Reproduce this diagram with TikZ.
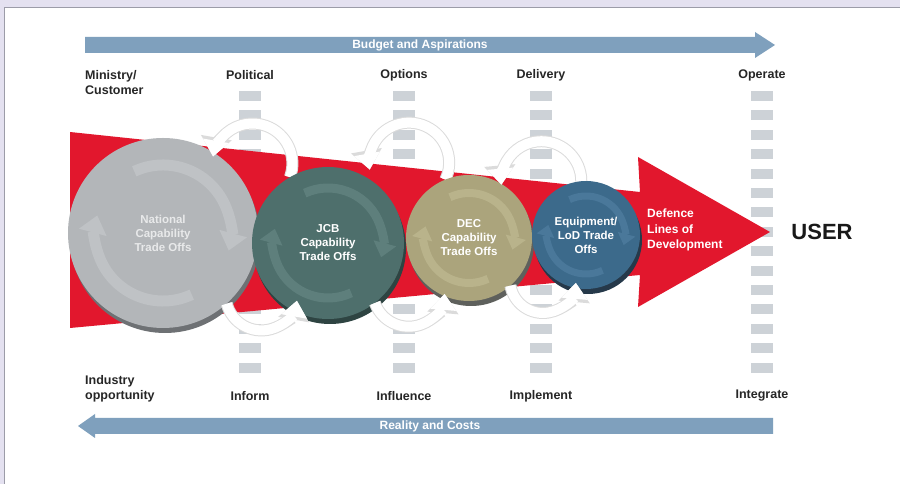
\documentclass[tikz,border=0pt]{standalone}
\usepackage{fontspec}
\setmainfont{Liberation Sans}
\usetikzlibrary{arrows.meta}

\definecolor{lavbg}{HTML}{E4E1F0}
\definecolor{framegray}{HTML}{9C9CA8}
\definecolor{barblue}{HTML}{7FA0BD}
\definecolor{dashgray}{HTML}{CDD2D7}
\definecolor{defred}{HTML}{E2172D}
\definecolor{natgray}{HTML}{B3B6B9}
\definecolor{natdark}{HTML}{6E7174}
\definecolor{natring}{HTML}{BFC2C5}
\definecolor{natword}{HTML}{E8E9EA}
\definecolor{jcbteal}{HTML}{4E6F6C}
\definecolor{jcbdark}{HTML}{2E4442}
\definecolor{jcbring}{HTML}{5E7F7C}
\definecolor{deckhaki}{HTML}{ABA47C}
\definecolor{decdark}{HTML}{5E605C}
\definecolor{decring}{HTML}{B9B38B}
\definecolor{eqpblue}{HTML}{3C6A8B}
\definecolor{eqpdark}{HTML}{26394A}
\definecolor{eqpring}{HTML}{4A789A}

\begin{document}
\begin{tikzpicture}[
        x = 1pt, y = 1pt, % one unit is one point
        > = {Triangle[width=0pt 2.5, length=0pt 1.6]}, % loop arrow heads
        label/.style = {font=\bfseries\fontsize{12.5}{15}\selectfont, text=black!85, inner sep=0pt},
        tag/.style = {font=\bfseries\fontsize{12}{14.5}\selectfont, text=white, inner sep=0pt},
        disc/.style = {shape=circle, inner sep=0pt, align=center, text=white,
            font=\bfseries\fontsize{11.5}{14}\selectfont},
        loopy/.style = {->, draw=white, line width=10pt,
            preaction={draw=gray!28, line width=12pt, -{Triangle[width=0pt 2.5, length=0pt 1.6]}}},
        swirl/.style n args = {3}{path picture={
            \draw[->, draw=#1, line width=#3] (path picture bounding box.center) ++(115:#2)
                arc[start angle=115, end angle=-15, radius=#2];
            \draw[->, draw=#1, line width=#3] (path picture bounding box.center) ++(-65:#2)
                arc[start angle=-65, end angle=-195, radius=#2];
        }}
    ]
\useasboundingbox (0,0) rectangle (900,484);

% frame
\fill[lavbg] (0,0) rectangle (900,484);
\fill[white] (4,0) rectangle (900,476);
\draw[framegray, line width=1pt] (4.5,0) -- (4.5,476.5) -- (900,476.5);

% budget / reality bars
\fill[barblue] (85,431) -- (755,431) -- (755,426) -- (775,439) -- (755,452) -- (755,447) -- (85,447) -- cycle;
\node[tag] (budget) at (420,439) {Budget and Aspirations};
\fill[barblue] (773,50) -- (95,50) -- (95,46) -- (78,58) -- (95,70) -- (95,66) -- (773,66) -- cycle;
\node[tag] (reality) at (430,58) {Reality and Costs};

% stage columns
\foreach \x in {250,404,541,762} {
    \foreach \k in {0,...,14} {
        \fill[dashgray] (\x-11,393-19.4*\k) rectangle ++(22,-10);
    }
}

\node[label, align=left, anchor=west] (ministry) at (85,401) {Ministry/\\Customer};
\node[label] (political) at (250,409) {Political};
\node[label] (options) at (404,409) {Options};
\node[label] (delivery) at (541,409) {Delivery};
\node[label] (operate) at (762,409) {Operate};

\node[label, align=left, anchor=west] (industry) at (85,95) {Industry\\opportunity};
\node[label] (inform) at (250,88) {Inform};
\node[label] (influence) at (404,88) {Influence};
\node[label] (implement) at (541,88) {Implement};
\node[label] (integrate) at (762,88) {Integrate};

% red lines of development arrow
\fill[defred] (70,352) -- (640,292) -- (638,327) -- (770,252) -- (638,177) -- (640,209) -- (70,156) -- cycle;
\node[tag, align=left, anchor=west, font=\bfseries\fontsize{12}{15.5}\selectfont] (lod) at (647,254)
    {Defence\\Lines of\\Development};
\node[font=\bfseries\fontsize{22}{24}\selectfont, text=black!90, inner sep=0pt] (user) at (822,252) {USER};

% disc centres
\coordinate (natc) at (163,251);
\coordinate (jcbc) at (328,241);
\coordinate (decc) at (469,246);
\coordinate (eqpc) at (586,249);

% trade off discs, back to front
\fill[natdark] ([shift={(2,-5)}]natc) circle (95);
\node[disc, fill=natgray, minimum size=190, text=natword, swirl={natring}{68}{11pt}] (nat) at (natc)
    {National\\Capability\\Trade Offs};
\draw[loopy] ([shift={(120:76)}]jcbc) arc[start angle=-20, end angle=170, radius=40];

\fill[jcbdark] ([shift={(2,-5)}]jcbc) circle (76);
\node[disc, fill=jcbteal, minimum size=152, swirl={jcbring}{55}{9pt}] (jcb) at (jcbc)
    {JCB\\Capability\\Trade Offs};
\draw[loopy] (nat.-48) arc[start angle=195, end angle=350, radius=36];
\draw[loopy] ([shift={(112:63)}]decc) arc[start angle=-25, end angle=190, radius=40];

\fill[decdark] ([shift={(2,-5)}]decc) circle (63);
\node[disc, fill=deckhaki, minimum size=126, swirl={decring}{45}{8pt}] (dec) at (decc)
    {DEC\\Capability\\Trade Offs};
\draw[loopy] (jcb.-52) arc[start angle=200, end angle=355, radius=36];
\draw[loopy] ([shift={(95:54)}]eqpc) arc[start angle=0, end angle=185, radius=40];

\fill[eqpdark] ([shift={(2,-5)}]eqpc) circle (54);
\node[disc, fill=eqpblue, minimum size=108, swirl={eqpring}{39}{7pt}] (eqp) at (eqpc)
    {Equipment/\\LoD Trade\\Offs};
\draw[loopy] (dec.-49) arc[start angle=190, end angle=355, radius=33];

\end{tikzpicture}
\end{document}
